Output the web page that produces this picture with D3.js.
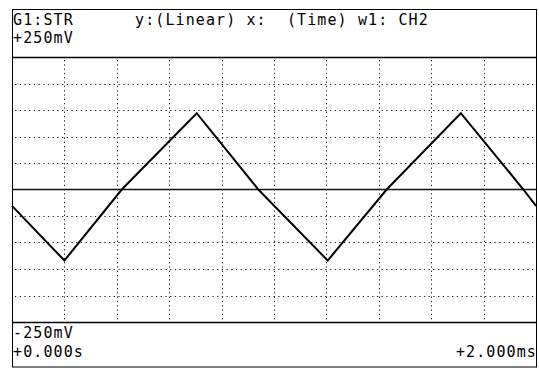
<!DOCTYPE html>
<html><head><meta charset="utf-8">
<script src="https://cdn.jsdelivr.net/npm/d3@7"></script>
<style>
html,body{margin:0;padding:0;background:#fff;}
svg{display:block;}
text{font-family:"DejaVu Sans Mono",monospace;font-size:15px;letter-spacing:1.1px;fill:#000;white-space:pre;}
</style></head>
<body>
<svg id="c" width="539" height="368"></svg>
<script>
// ---- data ----
const timeMs    = [0, 0.200, 0.419, 0.705, 0.940, 1.205, 1.430, 1.713, 1.952, 2.0];
const voltageMv = [-31, -134, 0, 144, 0, -134, 0, 144, 0, -31];
const xGridMs = [0.2, 0.4, 0.6, 0.8, 1.0, 1.2, 1.4, 1.6, 1.8];
const yGridMv = [-200, -150, -100, -50, 50, 100, 150, 200];
const yCenterMv = [0];
const headerLine1Left = "G1:STR";
const headerLine1Right = "y:(Linear) x:  (Time) w1: CH2";
const yTopLabel = "+250mV";
const yBottomLabel = "-250mV";
const xStartLabel = "+0.000s";
const xEndLabel = "+2.000ms";

// ---- layout ----
const L = 12, R = 536, T = 57, B = 322;
const svg = d3.select("#c");
const x = d3.scaleLinear().domain([0, 2]).range([L, R]);
const y = d3.scaleLinear().domain([-250, 250]).range([B, T]);

// outer frame
svg.append("rect").attr("x", L + 0.5).attr("y", 9.5).attr("width", R - L).attr("height", 367 - 9.5)
  .attr("fill", "none").attr("stroke", "#000").attr("stroke-width", 1);
// header / footer dividers
svg.append("line").attr("x1", L).attr("x2", R + 1).attr("y1", T + 0.5).attr("y2", T + 0.5)
  .attr("stroke", "#000").attr("stroke-width", 1.3);
svg.append("line").attr("x1", L).attr("x2", R + 1).attr("y1", B + 0.5).attr("y2", B + 0.5)
  .attr("stroke", "#000").attr("stroke-width", 1.3);

// dotted grid
const g = svg.append("g");
g.selectAll("line.vx").data(xGridMs).enter().append("line")
  .attr("x1", d => Math.round(x(d)) + 0.5).attr("x2", d => Math.round(x(d)) + 0.5)
  .attr("y1", T + 3).attr("y2", B)
  .attr("stroke", "#222").attr("stroke-width", 1).attr("stroke-dasharray", "1.3,3");
g.selectAll("line.hy").data(yGridMv).enter().append("line")
  .attr("y1", d => Math.round(y(d)) + 0.5).attr("y2", d => Math.round(y(d)) + 0.5)
  .attr("x1", L + 3).attr("x2", R)
  .attr("stroke", "#222").attr("stroke-width", 1).attr("stroke-dasharray", "1.3,3.4");
// solid centre line
g.selectAll("line.c").data(yCenterMv).enter().append("line")
  .attr("y1", d => y(d)).attr("y2", d => y(d))
  .attr("x1", L).attr("x2", R)
  .attr("stroke", "#111").attr("stroke-width", 1.4);

// waveform
const pts = timeMs.map((t, i) => [t, voltageMv[i]]);
svg.append("path").datum(pts)
  .attr("d", d3.line().x(d => x(d[0])).y(d => y(d[1])))
  .attr("fill", "none").attr("stroke", "#000").attr("stroke-width", 2)
  .attr("stroke-linejoin", "miter");

// texts
svg.append("text").attr("x", 13).attr("y", 24.5).text(headerLine1Left);
svg.append("text").attr("x", 135).attr("y", 24.5).text(headerLine1Right);
svg.append("text").attr("x", 13).attr("y", 43).text(yTopLabel);
svg.append("text").attr("x", 13).attr("y", 338).text(yBottomLabel);
svg.append("text").attr("x", 13).attr("y", 356.5).text(xStartLabel);
svg.append("text").attr("x", 537).attr("y", 356.5).attr("text-anchor", "end").text(xEndLabel);
</script>
</body></html>
